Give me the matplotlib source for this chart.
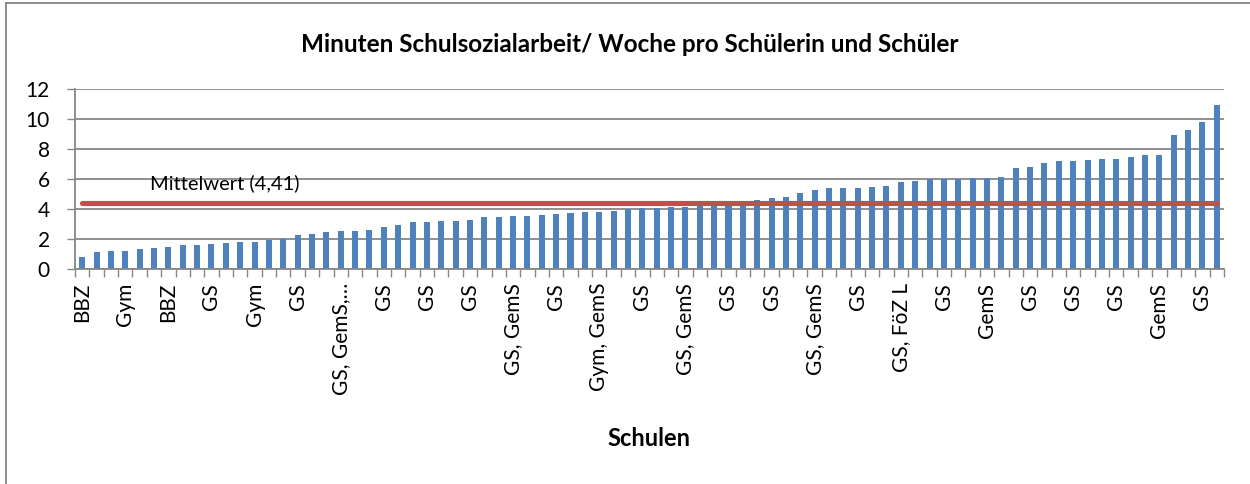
import numpy as np
from matplotlib import pyplot as plt
from matplotlib.lines import Line2D

# Minuten pro Schule, sortiert
werte = [0.78, 1.11, 1.18, 1.22, 1.34, 1.40, 1.45, 1.60, 1.63, 1.69,
         1.74, 1.80, 1.83, 1.96, 1.98, 2.27, 2.36, 2.47, 2.54, 2.54,
         2.61, 2.83, 2.92, 3.14, 3.14, 3.21, 3.21, 3.27, 3.47, 3.50,
         3.52, 3.54, 3.63, 3.67, 3.74, 3.79, 3.81, 3.85, 3.99, 4.08,
         4.08, 4.14, 4.16, 4.28, 4.35, 4.42, 4.50, 4.59, 4.72, 4.79,
         5.10, 5.26, 5.39, 5.39, 5.43, 5.48, 5.55, 5.81, 5.90, 5.99,
         5.99, 5.99, 6.10, 6.10, 6.12, 6.73, 6.82, 7.10, 7.19, 7.19,
         7.31, 7.33, 7.37, 7.46, 7.59, 7.62, 8.98, 9.31, 9.80, 10.96]

# nur jede dritte Schule ist beschriftet
beschriftungen = ["BBZ", "Gym", "BBZ", "GS", "Gym", "GS", "GS, GemS,…", "GS", "GS",
                  "GS", "GS, GemS", "GS", "Gym, GemS", "GS", "GS, GemS", "GS", "GS",
                  "GS, GemS", "GS", "GS, FöZ L", "GS", "GemS", "GS", "GS", "GS",
                  "GemS", "GS"]

mittelwert = 4.41

blau = "#4F81BD"
rot = "#C0504D"
grau = "#878787"

plt.rcParams['font.family'] = ['Lato', 'DejaVu Sans']

W, H = 1250, 484
fig = plt.figure(figsize=(W / 100, H / 100), dpi=100)
ax = fig.add_axes([75 / W, 1 - 269 / H, 1149 / W, (269 - 89.3) / H])

x = np.arange(len(werte))
ax.bar(x, werte, width=0.42, color=blau, zorder=2)
ax.plot(x, [mittelwert] * len(werte), color=rot, lw=3.7,
        solid_capstyle='round', zorder=3)
ax.text(4.7, 5.75, "Mittelwert (4,41)", fontsize=14.5, va='center', ha='left')

ax.set_xlim(-0.5, len(werte) - 0.5)
ax.set_ylim(0, 12)
ax.set_yticks(np.arange(0, 13, 2))
ax.yaxis.grid(True, color=grau, lw=1.3, zorder=0)
ax.set_axisbelow(True)

# Teilstriche zwischen den Kategorien, Beschriftung als Nebenticks
ax.set_xticks(np.arange(-0.5, len(werte), 1))
ax.set_xticklabels([])
ax.set_xticks(x[::3], minor=True)
ax.set_xticklabels(beschriftungen, minor=True, rotation=90, fontsize=15)
ax.tick_params(axis='x', which='major', length=6, width=1, color=grau)
ax.tick_params(axis='x', which='minor', length=0, pad=10)
ax.tick_params(axis='y', length=6, width=1, color=grau, labelsize=15, pad=12)

for s in ['top', 'right']:
    ax.spines[s].set_visible(False)
for s in ['left', 'bottom']:
    ax.spines[s].set_color(grau)
    ax.spines[s].set_linewidth(1.3)

fig.text(630 / W, 1 - 45 / H, "Minuten Schulsozialarbeit/ Woche pro Schülerin und Schüler",
         fontsize=17.5, fontweight='bold', ha='center', va='center')
fig.text(649 / W, 1 - 438 / H, "Schulen", fontsize=17, fontweight='bold',
         ha='center', va='center')

# Rahmen des Diagrammbereichs (nur links und oben sichtbar)
fig.add_artist(Line2D([6 / W, 6 / W], [0, 1 - 3 / H], color=grau, lw=1.3))
fig.add_artist(Line2D([6 / W, 1], [1 - 3 / H, 1 - 3 / H], color=grau, lw=1.3))

plt.savefig("out.png", dpi=100)
